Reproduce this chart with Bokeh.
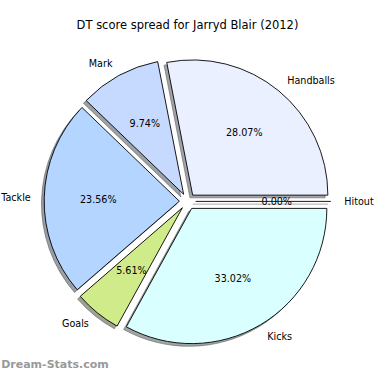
import numpy as np
from bokeh.plotting import figure
from bokeh.models import Range1d, ColumnDataSource
from bokeh.embed import file_html
from bokeh.resources import INLINE
from bokeh.core.properties import value

# ---- data ----
labels = ["Handballs", "Mark", "Tackle", "Goals", "Kicks", "Hitout"]
pcts = [28.07, 9.74, 23.56, 5.61, 33.02, 0.00]
colors = ["#EAF0FF", "#C6D9FF", "#B3D5FF", "#D0EB8A", "#D9FFFF", "#E0E0FF"]
title_text = "DT score spread for Jarryd Blair (2012)"
watermark = "Dream-Stats.com"

# ---- geometry (pie units, radius 1) ----
explode = 0.06
label_dist = 1.1
pct_dist = 0.6
R_PX = 141.0
CX, CY = 195.0, 209.5
FONT = "DejaVu Sans"

vals = np.array(pcts, dtype=float)
frac = vals / vals.sum()
ends = np.cumsum(frac) * 2 * np.pi
starts = ends - frac * 2 * np.pi
mids = (starts + ends) / 2
ox = explode * np.cos(mids)
oy = explode * np.sin(mids)

def shade(hexc):
    h = hexc.lstrip("#")
    r, g, b = (int(h[i:i + 2], 16) for i in (0, 2, 4))
    return "#%02x%02x%02x" % (int(r * 0.3), int(g * 0.3), int(b * 0.3))

shadow_cols = [shade(c) for c in colors]

W = H = 374
p = figure(width=W, height=H, output_backend="svg", toolbar_location=None,
           x_range=Range1d(-CX / R_PX, (390 - CX) / R_PX),
           y_range=Range1d(-(390 - CY) / R_PX, CY / R_PX),
           min_border=0)
p.axis.visible = False
p.grid.visible = False
p.outline_line_color = None
p.background_fill_color = "white"

nz = [i for i in range(len(vals)) if frac[i] > 0]
z = [i for i in range(len(vals)) if frac[i] == 0]

# shadows
sh = ColumnDataSource(dict(
    x=[ox[i] - 0.02 for i in nz], y=[oy[i] - 0.02 for i in nz],
    s=[starts[i] for i in nz], e=[ends[i] for i in nz],
    c=[shadow_cols[i] for i in nz]))
p.wedge(x="x", y="y", radius=1.0, start_angle="s", end_angle="e", source=sh,
        fill_color="c", fill_alpha=0.5, line_color="c", line_alpha=0.5, line_width=0.9)
for i in z:
    p.segment(x0=[ox[i] - 0.02], y0=[oy[i] - 0.02],
              x1=[ox[i] - 0.02 + np.cos(starts[i])], y1=[oy[i] - 0.02 + np.sin(starts[i])],
              line_color=shadow_cols[i], line_alpha=0.5, line_width=0.9)

# wedges
ws = ColumnDataSource(dict(
    x=[ox[i] for i in nz], y=[oy[i] for i in nz],
    s=[starts[i] for i in nz], e=[ends[i] for i in nz],
    c=[colors[i] for i in nz]))
p.wedge(x="x", y="y", radius=1.0, start_angle="s", end_angle="e", source=ws,
        fill_color="c", line_color="black", line_width=0.9)
for i in z:
    p.segment(x0=[ox[i]], y0=[oy[i]],
              x1=[ox[i] + np.cos(starts[i])], y1=[oy[i] + np.sin(starts[i])],
              line_color="black", line_width=0.9)

# category labels
lx = ox + label_dist * np.cos(mids)
ly = oy + label_dist * np.sin(mids)
for i in range(len(labels)):
    p.text(x=[lx[i]], y=[ly[i]], text=[labels[i]],
           text_align="left" if lx[i] > 0 else "right", text_baseline="middle",
           text_font=value(FONT), text_font_size="9.6px", text_color="black")

# percentage labels
px = ox + pct_dist * np.cos(mids)
py = oy + pct_dist * np.sin(mids)
p.text(x=list(px), y=list(py), text=["%.2f%%" % v for v in vals],
       text_align="center", text_baseline="middle",
       text_font=value(FONT), text_font_size="9.6px", text_color="black")

# title
p.text(x=[0], y=[(CY - 26) / R_PX], text=[title_text], text_align="center",
       text_baseline="middle", text_font=value(FONT), text_font_size="11.5px",
       text_color="black")

# watermark
p.text(x=[-CX / R_PX + 0.005], y=[(CY - 380) / R_PX], text=[watermark],
       text_align="left", text_baseline="middle", text_font=value(FONT),
       text_font_size="11px", text_font_style="bold", text_color="#999999")

open("out.html", "w").write(file_html(p, INLINE))
